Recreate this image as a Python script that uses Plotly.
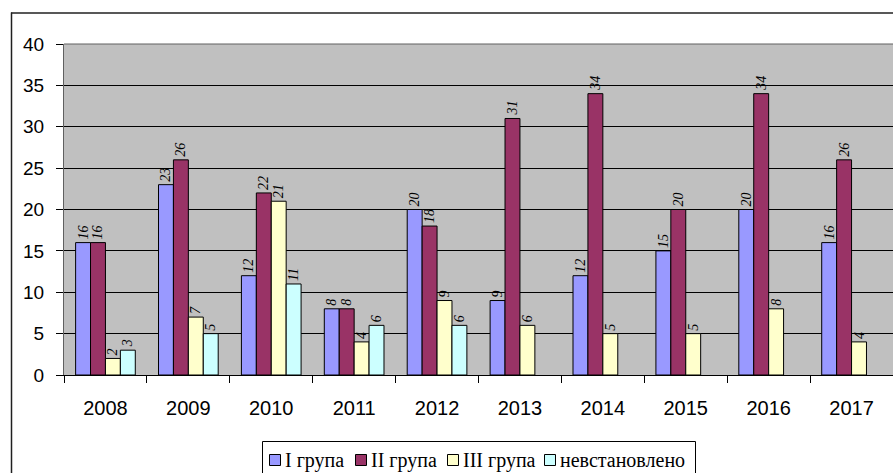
import plotly.graph_objects as go

years = ["2008", "2009", "2010", "2011", "2012", "2013", "2014", "2015", "2016", "2017"]
group1 = [16, 23, 12, 8, 20, 9, 12, 15, 20, 16]
group2 = [16, 26, 22, 8, 18, 31, 34, 20, 34, 26]
group3 = [2, 7, 21, 4, 9, 6, 5, 5, 8, 4]
unknown = [3, 5, 11, 6, 6, None, None, None, None, None]

series_names = ["I група", "II група", "III група", "невстановлено"]
series_values = [group1, group2, group3, unknown]
colors = ["#9999FF", "#993366", "#FFFFCC", "#CCFFFF"]

SERIF = "'Liberation Serif', 'Times New Roman', 'DejaVu Serif', serif"
SANS = "'Liberation Sans', Arial, sans-serif"

W, H = 893, 473
ML, MR, MT, MB = 64, 0, 44, 98
pw = W - ML - MR
ph = H - MT - MB


def px_to_paper_x(px):
    return (px - ML) / pw


def px_to_paper_y(py):
    return (H - MB - py) / ph


fig = go.Figure()
for name, vals, col in zip(series_names, series_values, colors):
    fig.add_trace(go.Bar(
        x=years, y=vals, name=name,
        marker=dict(color=col, line=dict(color="black", width=1)),
        text=[("" if v is None else str(v)) for v in vals],
        textposition="outside",
        textangle=-90,
        constraintext="none",
        cliponaxis=False,
        textfont=dict(family=SERIF, size=14, style="italic", color="black"),
        showlegend=False,
    ))

legend_swatch_left = [269, 355, 447, 544]
frame_line = dict(color="#202020", width=1.5)
shapes = [
    dict(type="line", xref="paper", yref="paper", x0=0, x1=1, y0=1, y1=1,
         line=dict(color="#606060", width=1), layer="above"),
    dict(type="line", xref="paper", yref="paper",
         x0=px_to_paper_x(11), x1=1.0,
         y0=px_to_paper_y(13), y1=px_to_paper_y(13), line=frame_line, layer="above"),
    dict(type="line", xref="paper", yref="paper",
         x0=px_to_paper_x(11.5), x1=px_to_paper_x(11.5),
         y0=px_to_paper_y(12.5), y1=px_to_paper_y(H + 5), line=frame_line, layer="above"),
    dict(type="rect", xref="paper", yref="paper",
         x0=px_to_paper_x(262.5), x1=px_to_paper_x(695.5),
         y0=px_to_paper_y(H + 5), y1=px_to_paper_y(441.5),
         line=dict(color="black", width=1), fillcolor="white", layer="above"),
]
annotations = []
for name, col, sx in zip(series_names, colors, legend_swatch_left):
    shapes.append(dict(
        type="rect", xref="paper", yref="paper",
        x0=px_to_paper_x(sx + 0.5), x1=px_to_paper_x(sx + 11.5),
        y0=px_to_paper_y(465.5), y1=px_to_paper_y(454.5),
        line=dict(color="black", width=1), fillcolor=col, layer="above"))
    annotations.append(dict(
        xref="paper", yref="paper",
        x=px_to_paper_x(sx + 14), y=px_to_paper_y(460),
        xanchor="left", yanchor="middle", showarrow=False,
        text=name, font=dict(family=SERIF, size=20, color="black"),
    ))

fig.update_layout(
    width=W, height=H,
    margin=dict(l=ML, r=MR, t=MT, b=MB, pad=0, autoexpand=False),
    barmode="group",
    bargap=0.28,
    bargroupgap=0,
    plot_bgcolor="#C0C0C0",
    paper_bgcolor="white",
    font=dict(family=SANS, size=19, color="black"),
    showlegend=False,
    xaxis=dict(
        type="category",
        automargin=False,
        showgrid=False,
        showline=True, linecolor="black", linewidth=1,
        ticks="outside", ticklen=7, tickcolor="black",
        tickson="boundaries",
        ticklabelstandoff=15,
        tickfont=dict(family=SANS, size=20),
    ),
    yaxis=dict(
        automargin=False,
        range=[0, 40],
        tickvals=[0, 5, 10, 15, 20, 25, 30, 35, 40],
        showgrid=True, gridcolor="black", gridwidth=1,
        showline=True, linecolor="#606060", linewidth=1,
        ticks="outside", ticklen=7, tickcolor="black",
        ticklabelstandoff=8,
        zeroline=False,
        tickfont=dict(family=SANS, size=19),
    ),
    shapes=shapes,
    annotations=annotations,
)

fig.write_html(
    "out.html",
    config={"displayModeBar": False},
    post_script="document.body.style.margin='0px'; document.body.style.overflow='hidden';",
)
